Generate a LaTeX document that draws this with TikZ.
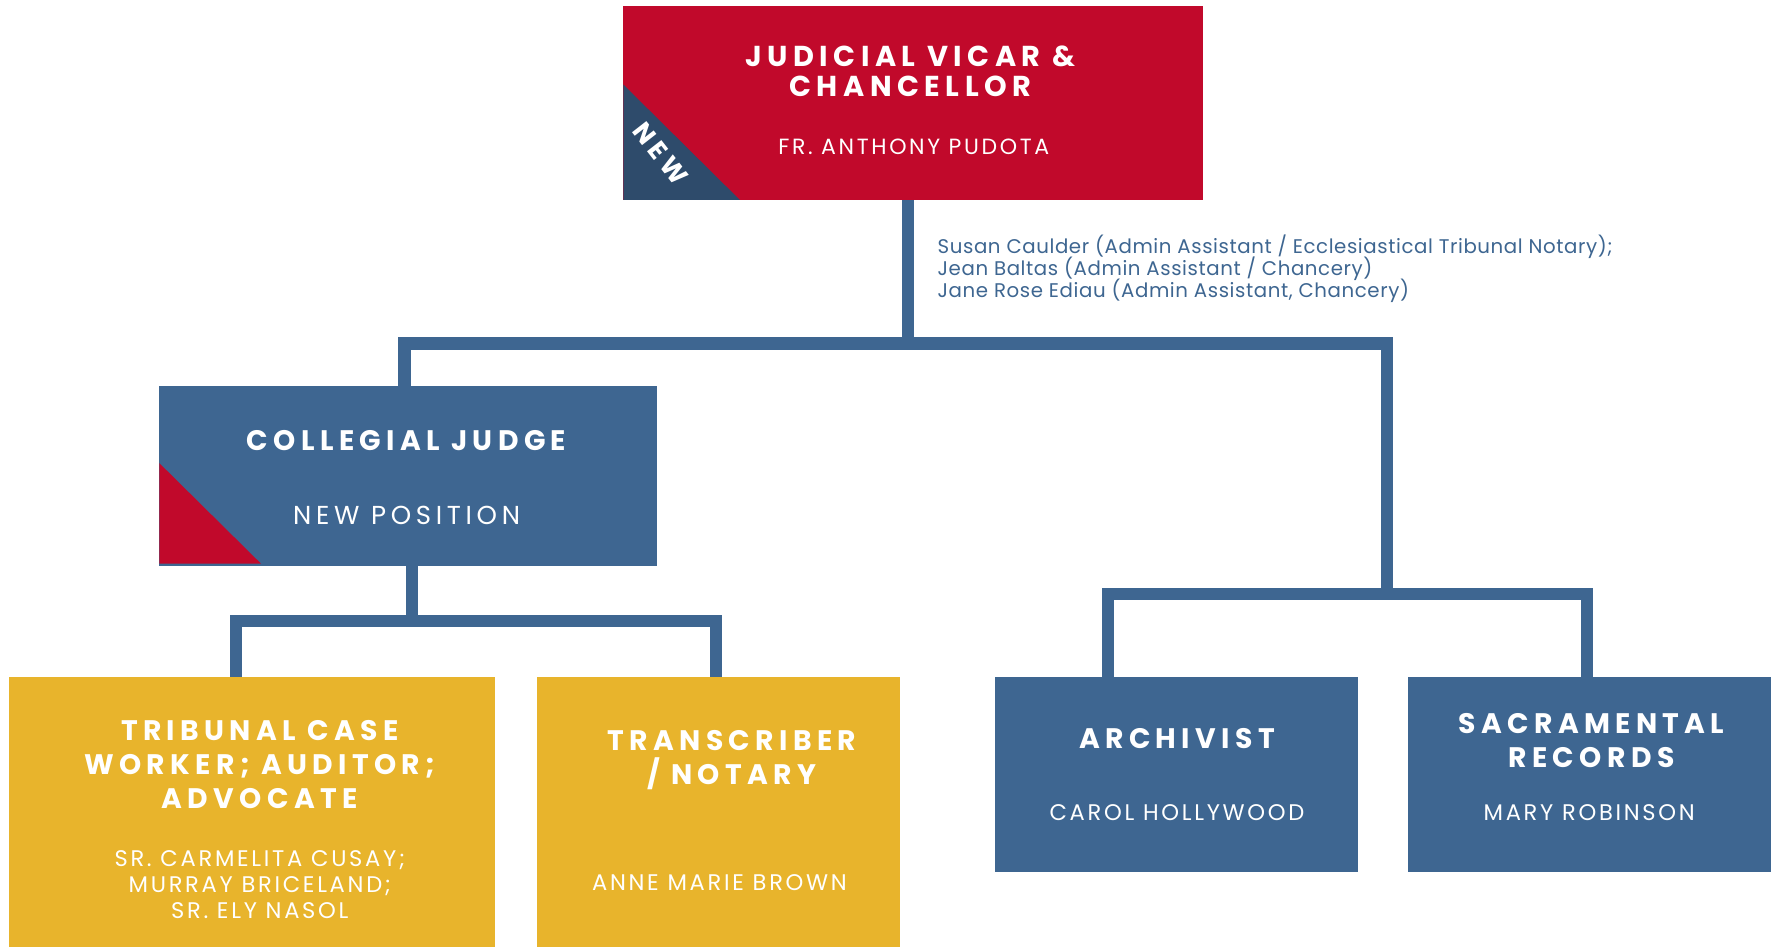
\documentclass[tikz,border=0pt]{standalone}
\usepackage{fontspec}
\setmainfont{Poppins}
\newfontfamily\hfont{Poppins}[LetterSpace=19]
\newfontfamily\nfont{Poppins}[LetterSpace=12]
\newfontfamily\wfont{Poppins}[LetterSpace=18]
\newfontfamily\afont{Poppins}[LetterSpace=3]
\newcommand\tightlines{\lineskiplimit=-20pt\relax\lineskip=0pt\relax}
\definecolor{jred}{HTML}{C1092B}
\definecolor{jblue}{HTML}{3E6691}
\definecolor{jnavy}{HTML}{2E4B6B}
\definecolor{jyellow}{HTML}{E8B42C}
\tikzset{
  box/.style={draw=none, inner sep=0pt, outer sep=0pt, anchor=center},
  conn/.style={draw=jblue, line width=11pt, line join=miter, line cap=butt},
  htext/.style={text=white, align=center, inner sep=0pt, anchor=base, font=\hfont\bfseries\fontsize{25}{30}\selectfont},
  ptext/.style={text=white, align=center, inner sep=0pt, anchor=base, font=\nfont\fontsize{20}{23}\selectfont},
}
\begin{document}
\begin{tikzpicture}[x=1pt,y=-1pt]
\useasboundingbox (0,0) rectangle (1568,838);
\fill[white] (0,0) rectangle (1568,838);
% boxes
\node[box, fill=jred, minimum width=513pt, minimum height=172pt] (top) at (808.5,91) {};
\fill[jnavy] (552,75) -- (552,177) -- (655,177) -- cycle;
\node[box, fill=jblue, minimum width=441pt, minimum height=159pt] (coll) at (361.5,421.5) {};
\fill[jred] (141,410) -- (141,499) -- (231,499) -- cycle;
\node[box, fill=jyellow, minimum width=430pt, minimum height=243pt] (yel1) at (223,720.5) {};
\node[box, fill=jyellow, minimum width=322pt, minimum height=243pt] (yel2) at (636,720.5) {};
\node[box, fill=jblue, minimum width=321pt, minimum height=173pt] (arch) at (1041.5,685.5) {};
\node[box, fill=jblue, minimum width=321pt, minimum height=173pt] (sac) at (1407.5,685.5) {};
% junction coordinates
\coordinate (c1) at (358,304);
\coordinate (c2) at (1228,304);
\coordinate (d1) at (981,526);
\coordinate (d2) at (1405,526);
\coordinate (e1) at (209,550);
\coordinate (e2) at (634,550);
% connectors
\draw[conn] ([xshift=-4.5pt]top.south) -- ([xshift=-4.5pt]top.south |- c1);
\draw[conn] (coll.north -| c1) -- (c1) -- (c2) -- (c2 |- d1);
\draw[conn] (arch.north -| d1) -- (d1) -- (d2) -- (d2 |- sac.north);
\draw[conn] ([xshift=3.5pt]coll.south) -- ([xshift=3.5pt]coll.south |- e1);
\draw[conn] (yel1.north -| e1) -- (e1) -- (e2) -- (e2 |- yel2.north);
% texts
\node[htext, font=\hfont\bfseries\fontsize{25.5}{27}\selectfont] (topT) at (806,85.7) {JUDICIAL VICAR \&\\CHANCELLOR};
\node[ptext, font=\nfont\fontsize{19.5}{23}\selectfont] (topN) at (809,137) {FR. ANTHONY PUDOTA};
\node[text=white, inner sep=0pt, font=\hfont\bfseries\fontsize{23}{23}\selectfont, rotate=-52] (newT) at (585,136) {NEW};
\node[anchor=base west, align=left, inner sep=0pt, text=jblue, font=\afont\fontsize{17.5}{19.5}\selectfont\tightlines] (adm) at (830,263.5)
  {Susan Caulder (Admin Assistant / Ecclesiastical Tribunal Notary);\\Jean Baltas (Admin Assistant / Chancery)\\Jane Rose Ediau (Admin Assistant, Chancery)};
\node[htext] (collT) at (360,398.7) {COLLEGIAL JUDGE};
\node[ptext, font=\wfont\fontsize{23}{23}\selectfont] (collN) at (360,464) {NEW POSITION};
\node[htext] (yel1T) at (230,715.7) {TRIBUNAL CASE\\WORKER; AUDITOR;\\ADVOCATE};
\node[ptext] (yel1N) at (230,813) {SR. CARMELITA CUSAY;\\ MURRAY BRICELAND;\\SR. ELY NASOL};
\node[htext] (yel2T) at (648,694.7) {TRANSCRIBER\\/ NOTARY};
\node[ptext] (yel2N) at (637,788) {ANNE MARIE BROWN};
\node[htext] (archT) at (1042,662.7) {ARCHIVIST};
\node[ptext] (archN) at (1042,726) {CAROL HOLLYWOOD};
\node[htext] (sacT) at (1409,679.7) {SACRAMENTAL\\RECORDS};
\node[ptext] (sacN) at (1407,726) {MARY ROBINSON};
\end{tikzpicture}
\end{document}
